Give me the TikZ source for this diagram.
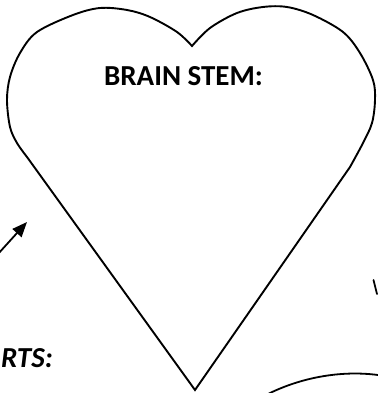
\documentclass[tikz,border=0pt]{standalone}
\usepackage{fontspec}
\setmainfont{Carlito}
\usetikzlibrary{positioning, arrows.meta}
\definecolor{Ink}{HTML}{000000}
\tikzset{
    heartline/.style={draw=Ink, line width=1.9pt, line join=miter},
    titlenode/.style={font=\bfseries\fontsize{29}{31}\selectfont, text=Ink, inner sep=0pt},
    cutnode/.style={font=\bfseries\itshape\fontsize{29}{31}\selectfont, text=Ink, inner sep=0pt},
    arrow/.style={-{Triangle[length=15pt, width=12pt]}, line width=1.8pt, color=Ink},
    stroke/.style={draw=Ink, line width=1.8pt, line cap=round},
}
\begin{document}
\begin{tikzpicture}[x=1pt, y=-1pt]
    \useasboundingbox (0,0) rectangle (377,393);

    % Cuore (Heart)
    \draw[heartline] (195,390) -- plot[smooth, tension=0.55] coordinates {
        (27,157) (17,143) (10,127) (7,100) (10,77) (20,53) (37,32)
        (73,15) (100,8) (127,10) (150,17) (177,32) (192,46)}
        -- plot[smooth, tension=0.55] coordinates {
        (192,46) (210,28) (237,13) (263,7) (287,7) (313,15) (343,32)
        (360,53) (373,80) (375,100) (372,123) (363,143) (350,167)}
        -- cycle;

    % Titolo
    \node[titlenode, anchor=base] (stem) at (183.5,86) {BRAIN STEM:};

    % Testo tagliato a sinistra
    \node[cutnode, anchor=base west] (parts) at (1,367) {RTS:};

    % Freccia
    \coordinate (arrowfrom) at (-2,254);
    \coordinate (arrowto) at (27,222);
    \draw[arrow] (arrowfrom) -- (arrowto);

    % Tratti sul bordo destro
    \coordinate (tickA) at (373.5,280);
    \coordinate (tickB) at (377,294);
    \draw[stroke] (tickA) -- (tickB);
    \coordinate (curveA) at (268,394);
    \coordinate (curveB) at (378,375);
    \draw[stroke] (curveA) .. controls (300,378) and (340,370) .. (curveB);
\end{tikzpicture}
\end{document}
